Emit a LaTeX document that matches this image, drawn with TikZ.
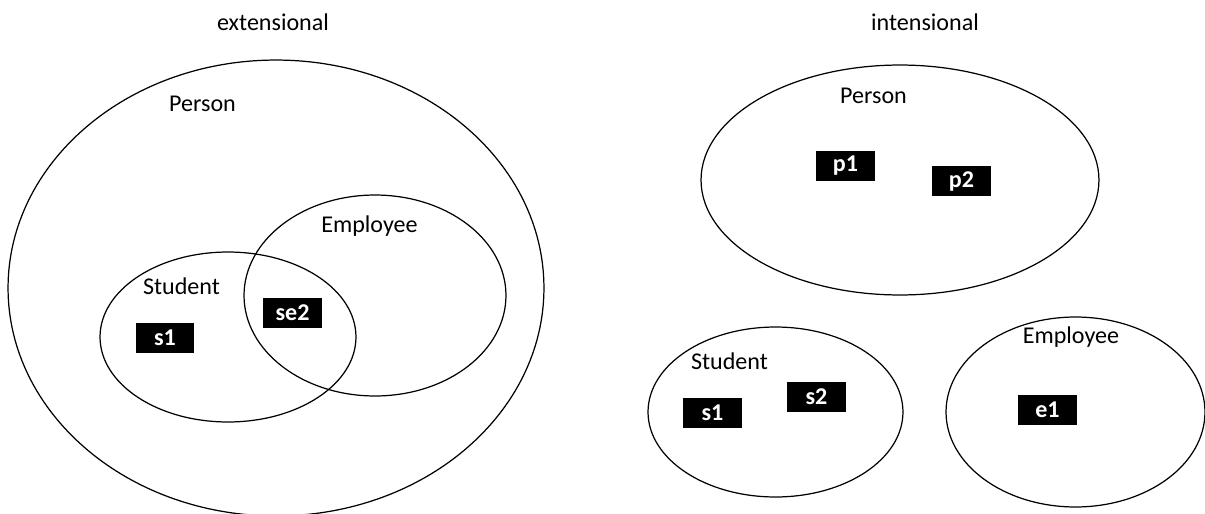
\documentclass[tikz,border=0pt]{standalone}
\usepackage{fontspec}
\setmainfont{Carlito}
\usetikzlibrary{shapes.geometric}
\begin{document}
\begin{tikzpicture}[x=0.02cm,y=-0.02cm,
		set/.style={draw=black,line width=0.7pt,ellipse,inner sep=0pt},
		elem/.style={fill=black,text=white,font=\fontsize{13.7}{16}\selectfont\bfseries,minimum width=1.18cm,minimum height=0.6cm,inner sep=0pt},
		lbl/.style={anchor=base,inner sep=0pt,font=\fontsize{13.7}{16}\selectfont}]
		\useasboundingbox (0,0) rectangle (1205,514);
		% extensional view
		\node[lbl] (exttitle) at (273,30) {extensional};
		\node[set,minimum width=10.72cm,minimum height=9.12cm] (extperson) at (276,288) {};
		\node[set,minimum width=5.12cm,minimum height=3.4cm] (extstudent) at (228,337) {};
		\node[set,minimum width=5.24cm,minimum height=4.02cm] (extemployee) at (375,295.5) {};
		\node[lbl] (extpersonlbl) at (202.5,111) {Person};
		\node[lbl] (extemployeelbl) at (369.5,232) {Employee};
		\node[lbl] (extstudentlbl) at (181.5,294) {Student};
		% intensional view
		\node[lbl] (inttitle) at (925,30) {intensional};
		\node[set,minimum width=7.96cm,minimum height=4.6cm] (intperson) at (900,180) {};
		\node[set,minimum width=5.1cm,minimum height=3.4cm] (intstudent) at (775.5,412) {};
		\node[set,minimum width=5.18cm,minimum height=3.8cm] (intemployee) at (1075.5,412) {};
		\node[lbl] (intpersonlbl) at (873.5,103) {Person};
		\node[lbl] (intstudentlbl) at (729.5,369) {Student};
		\node[lbl] (intemployeelbl) at (1071,343.5) {Employee};
		% instances
		\foreach \n/\x/\y/\t in {exts1/165/338/s1, extse2/292.5/313/se2, intp1/845.5/166/p1, intp2/961.5/181/p2, ints1/712.5/413/s1, ints2/816.5/396.5/s2, inte1/1047.5/410/e1}{
			\node[elem] (\n) at (\x,\y) {\t};
		}
	\end{tikzpicture}
\end{document}
